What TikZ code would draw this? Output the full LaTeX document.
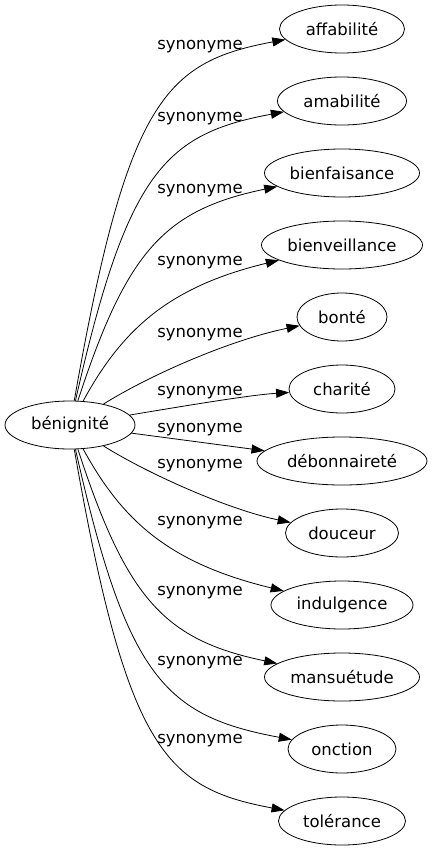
\documentclass[tikz,border=0pt]{standalone}
\usepackage{fontspec}
\setmainfont{DejaVu Sans}
\usepackage{tikz}
\usetikzlibrary{arrows.meta,shapes.geometric}
\tikzset{
  term/.style={draw=black, ellipse, line width=0.8pt, inner xsep=0pt, minimum height=48pt, font=\fontsize{16.5pt}{19pt}\selectfont},
  rel/.style={inner sep=1pt, font=\fontsize{16.5pt}{19pt}\selectfont},
  arrow/.style={-{Triangle[length=13pt,width=9pt]}, line width=0.8pt}
}
\begin{document}
\begin{tikzpicture}[x=1pt, y=-1pt]
\useasboundingbox (0,0) rectangle (431,851);
% source word
\node[term, minimum width=130pt] (benignite) at (70,425) {bénignité};
% synonyms
\node[term, minimum width=125pt] (affabilite) at (342,29) {affabilité};
\node[term, minimum width=129pt] (amabilite) at (342,101) {amabilité};
\node[term, minimum width=155pt] (bienfaisance) at (342,173) {bienfaisance};
\node[term, minimum width=161pt] (bienveillance) at (342,245) {bienveillance};
\node[term, minimum width=90pt] (bonte) at (342,317) {bonté};
\node[term, minimum width=106pt] (charite) at (342,389) {charité};
\node[term, minimum width=170pt] (debonnairete) at (342,461) {débonnaireté};
\node[term, minimum width=113pt] (douceur) at (342,533) {douceur};
\node[term, minimum width=142pt] (indulgence) at (342,605) {indulgence};
\node[term, minimum width=155pt] (mansuetude) at (342,677) {mansuétude};
\node[term, minimum width=108pt] (onction) at (342,749) {onction};
\node[term, minimum width=127pt] (tolerance) at (342,821) {tolérance};
% edge labels
\node[rel] (l1) at (200,47) {synonyme};
\node[rel] (l2) at (200,119) {synonyme};
\node[rel] (l3) at (200,191) {synonyme};
\node[rel] (l4) at (200,263) {synonyme};
\node[rel] (l5) at (200,335) {synonyme};
\node[rel] (l6) at (200,393) {synonyme};
\node[rel] (l7) at (200,430) {synonyme};
\node[rel] (l8) at (200,466) {synonyme};
\node[rel] (l9) at (200,523) {synonyme};
\node[rel] (l10) at (200,593) {synonyme};
\node[rel] (l11) at (200,663) {synonyme};
\node[rel] (l12) at (200,741) {synonyme};
% edges
\draw[arrow] (benignite) .. controls (127,100) and (165,62) .. (affabilite);
\draw[arrow] (benignite) .. controls (127,172) and (165,134) .. (amabilite);
\draw[arrow] (benignite) .. controls (127,250) and (165,210) .. (bienfaisance);
\draw[arrow] (benignite) .. controls (122,330) and (168,287) .. (bienveillance);
\draw[arrow] (benignite) .. controls (150,375) and (230,340) .. (bonte);
\draw[arrow] (benignite) .. controls (190,405) and (250,395) .. (charite);
\draw[arrow] (benignite) -- (debonnairete);
\draw[arrow] (benignite) .. controls (150,475) and (230,510) .. (douceur);
\draw[arrow] (benignite) .. controls (122,520) and (168,563) .. (indulgence);
\draw[arrow] (benignite) .. controls (127,600) and (165,640) .. (mansuetude);
\draw[arrow] (benignite) .. controls (127,678) and (165,716) .. (onction);
\draw[arrow] (benignite) .. controls (127,750) and (165,788) .. (tolerance);
\end{tikzpicture}
\end{document}
